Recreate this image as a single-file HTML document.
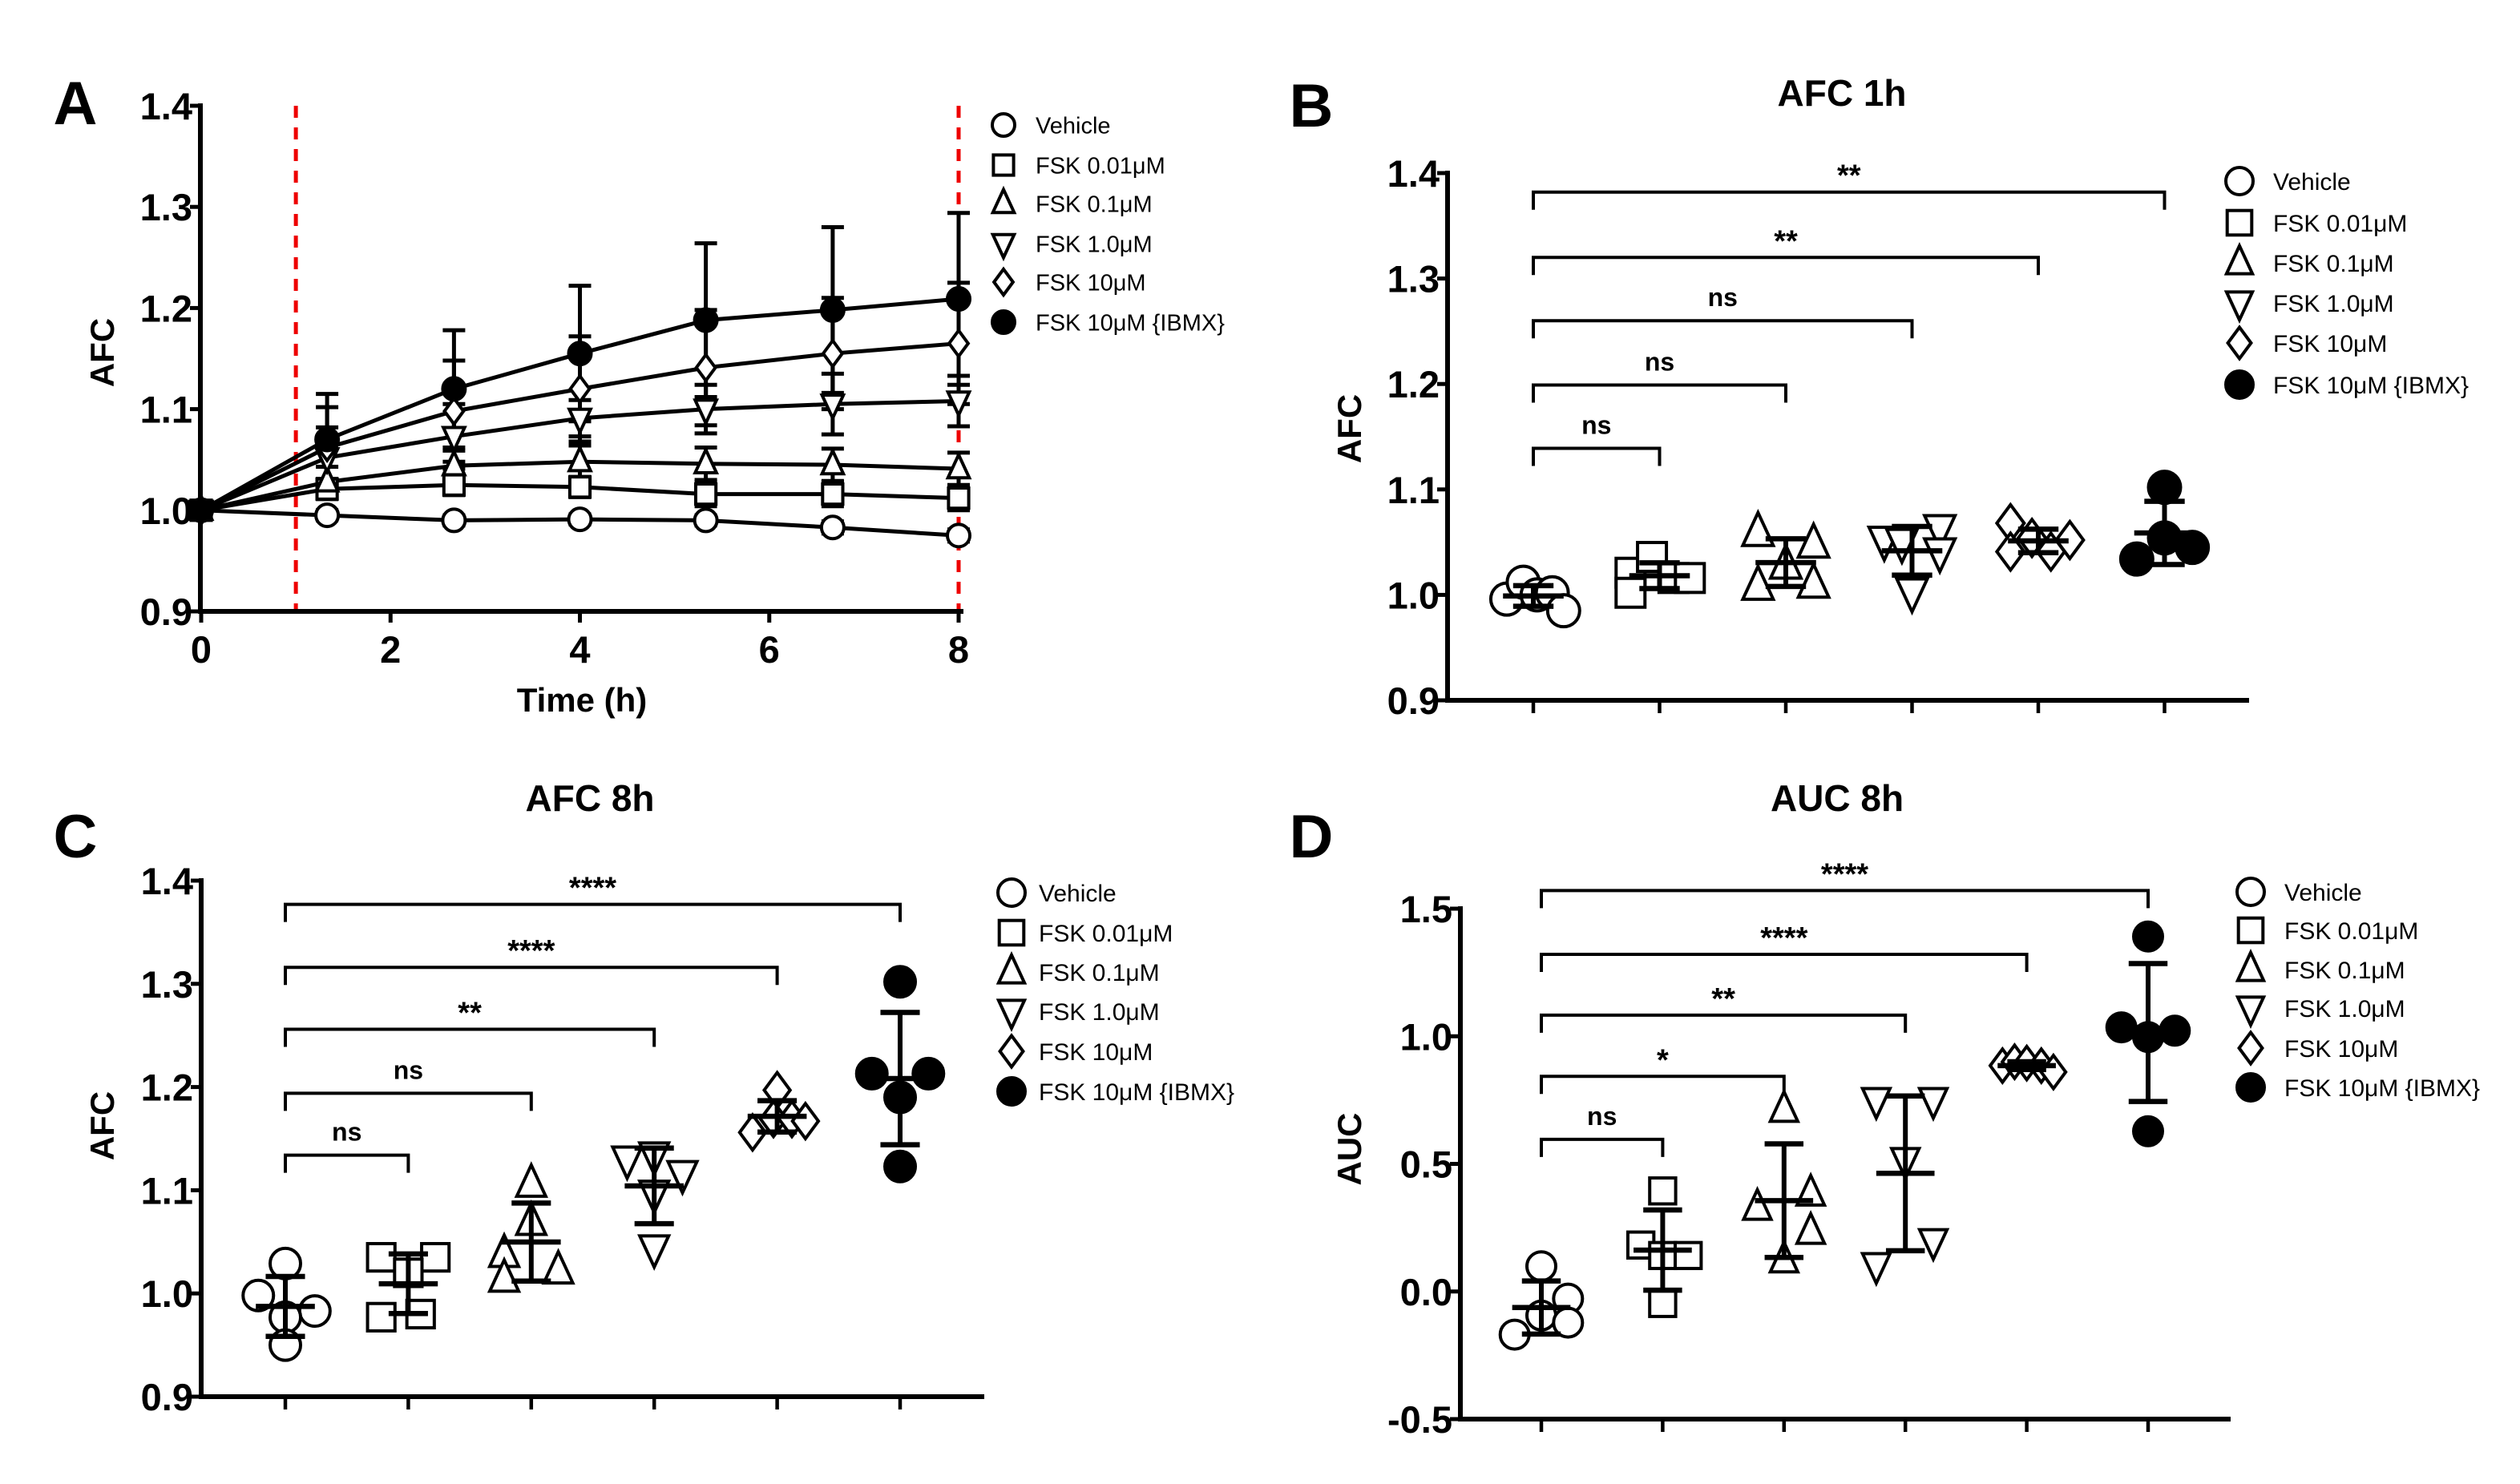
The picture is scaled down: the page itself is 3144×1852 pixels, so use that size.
<!DOCTYPE html>
<html><head><meta charset="utf-8"><style>
html,body{margin:0;padding:0;background:#fff;}
svg{display:block;font-family:"Liberation Sans",Arial,sans-serif;}
</style></head><body>
<svg id="fig" width="3144" height="1852" viewBox="0 0 3144 1852" xmlns="http://www.w3.org/2000/svg"></svg>
<script>
// ---------- Data ----------
const SERIES_NAMES = ["Vehicle","FSK 0.01μM","FSK 0.1μM","FSK 1.0μM","FSK 10μM","FSK 10μM {IBMX}"];
const SHAPES = ["circle","square","tri-up","tri-down","diamond","dot"];

// Panel A: time course
const A_times = [0, 1.33, 2.67, 4, 5.33, 6.67, 8];
const A_vehicle = [1.0, 0.995, 0.990, 0.991, 0.990, 0.983, 0.975];
const A_fsk001 = [1.0, 1.021, 1.025, 1.023, 1.016, 1.016, 1.012];
const A_fsk01 = [1.0, 1.028, 1.044, 1.048, 1.046, 1.045, 1.041];
const A_fsk1 = [1.0, 1.052, 1.073, 1.091, 1.100, 1.105, 1.108];
const A_fsk10 = [1.0, 1.062, 1.098, 1.120, 1.141, 1.155, 1.165];
const A_ibmx = [1.0, 1.070, 1.120, 1.155, 1.188, 1.198, 1.209];
const A_sd_vehicle = [0, 0.005, 0.005, 0.005, 0.005, 0.006, 0.006];
const A_sd_fsk001 = [0, 0.010, 0.010, 0.010, 0.012, 0.012, 0.012];
const A_sd_fsk01 = [0, 0.015, 0.015, 0.016, 0.016, 0.016, 0.016];
const A_sd_fsk1 = [0, 0.030, 0.032, 0.018, 0.024, 0.030, 0.025];
const A_sd_fsk10 = [0, 0.040, 0.050, 0.052, 0.057, 0.055, 0.060];
const A_sd_ibmx = [0, 0.045, 0.058, 0.067, 0.076, 0.082, 0.085];
const A_yticks = [0.9, 1.0, 1.1, 1.2, 1.3, 1.4];
const A_xticks = [0, 2, 4, 6, 8];
const A_dashes = [1, 8];

// Panel B: AFC 1h
const B_vehicle = [0.996, 1.012, 1.000, 1.002, 0.985];
const B_fsk001 = [1.021, 1.002, 1.036, 1.016, 1.016];
const B_fsk01 = [1.059, 1.008, 1.028, 1.048, 1.010];
const B_fsk1 = [1.052, 1.003, 1.063, 1.041, 1.050];
const B_fsk10 = [1.068, 1.041, 1.054, 1.041, 1.052];
const B_ibmx = [1.102, 1.054, 1.034, 1.045];
const B_yticks = [0.9, 1.0, 1.1, 1.2, 1.3, 1.4];
const B_brackets_to = [5, 4, 3, 2, 1];
const B_brackets_y = [1.382, 1.320, 1.260, 1.199, 1.139];
const B_brackets_label = ["**", "**", "ns", "ns", "ns"];

// Panel C: AFC 8h
const C_vehicle = [1.029, 0.998, 0.983, 0.977, 0.950];
const C_fsk001 = [1.035, 1.035, 1.020, 0.977, 0.980];
const C_fsk01 = [1.106, 1.069, 1.038, 1.014, 1.022];
const C_fsk1 = [1.130, 1.134, 1.116, 1.097, 1.044];
const C_fsk10 = [1.197, 1.156, 1.169, 1.169, 1.167];
const C_ibmx = [1.302, 1.213, 1.213, 1.190, 1.123];
const C_yticks = [0.9, 1.0, 1.1, 1.2, 1.3, 1.4];
const C_brackets_to = [5, 4, 3, 2, 1];
const C_brackets_y = [1.377, 1.316, 1.256, 1.194, 1.134];
const C_brackets_label = ["****", "****", "**", "ns", "ns"];

// Panel D: AUC 8h
const D_vehicle = [0.099, -0.028, -0.094, -0.122, -0.169];
const D_fsk001 = [0.394, 0.182, 0.141, 0.141, -0.047];
const D_fsk01 = [0.712, 0.328, 0.384, 0.234, 0.122];
const D_fsk1 = [0.750, 0.750, 0.515, 0.197, 0.103];
const D_fsk10 = [0.885, 0.900, 0.895, 0.885, 0.860];
const D_ibmx = [1.391, 1.035, 1.022, 0.997, 0.628];
const D_yticks = [-0.5, 0.0, 0.5, 1.0, 1.5];
const D_brackets_to = [5, 4, 3, 2, 1];
const D_brackets_y = [1.571, 1.321, 1.083, 0.843, 0.596];
const D_brackets_label = ["****", "****", "**", "*", "ns"];

// ---------- Layout (not data) ----------
const B_jit = [[-0.21,-0.08,0.03,0.15,0.24],[-0.23,-0.23,-0.06,0.11,0.24],[-0.22,-0.22,0.0,0.22,0.22],[-0.22,0.0,0.22,0.22,-0.08],[-0.22,-0.22,-0.05,0.1,0.25],[0.0,0.0,-0.22,0.22]];
const C_jit = [[0,-0.22,0.24,0,0],[-0.22,0.22,0.0,-0.22,0.1],[0,0,-0.22,-0.22,0.22],[-0.22,0,0.23,0,0],[0,-0.2,-0.03,0.12,0.23],[0,-0.23,0.23,0,0]];
const D_jit = [[0,0.22,0,0.22,-0.22],[0,-0.18,0,0.21,0],[0,-0.22,0.22,0.22,0],[-0.24,0.23,0,0.23,-0.24],[-0.2,-0.1,0.0,0.12,0.22],[0,-0.22,0.22,0,0]];

const NS = "http://www.w3.org/2000/svg";
const svg = document.getElementById("fig");
function mk(tag, attrs, parent) {
  const e = document.createElementNS(NS, tag);
  for (const k in attrs) e.setAttribute(k, attrs[k]);
  (parent || svg).appendChild(e);
  return e;
}
function txt(s, x, y, size, opts, parent) {
  const e = mk("text", {x: x, y: y, "font-size": size, "font-weight": (opts && opts.weight) || "bold", "text-anchor": (opts && opts.anchor) || "middle", fill: "#000"}, parent);
  if (opts && opts.transform) e.setAttribute("transform", opts.transform);
  e.textContent = s;
  return e;
}
function marker(shape, x, y, r, parent) {
  const sw = 4;
  let e;
  if (shape === "circle" || shape === "dot") {
    e = mk("circle", {cx: x, cy: y, r: r, fill: shape === "dot" ? "#000" : "#fff", stroke: "#000", "stroke-width": sw}, parent);
  } else if (shape === "square") {
    const s = r * 0.9;
    e = mk("rect", {x: x - s, y: y - s, width: 2 * s, height: 2 * s, fill: "#fff", stroke: "#000", "stroke-width": sw}, parent);
  } else if (shape === "tri-up") {
    e = mk("polygon", {points: `${x},${y - r * 1.25} ${x - r * 0.95},${y + r * 0.8} ${x + r * 0.95},${y + r * 0.8}`, fill: "#fff", stroke: "#000", "stroke-width": sw}, parent);
  } else if (shape === "tri-down") {
    e = mk("polygon", {points: `${x},${y + r * 1.25} ${x - r * 0.95},${y - r * 0.8} ${x + r * 0.95},${y - r * 0.8}`, fill: "#fff", stroke: "#000", "stroke-width": sw}, parent);
  } else {
    e = mk("polygon", {points: `${x},${y - r * 1.15} ${x + r * 0.85},${y} ${x},${y + r * 1.15} ${x - r * 0.85},${y}`, fill: "#fff", stroke: "#000", "stroke-width": sw}, parent);
  }
  
  
  return e;
}
function legend(x, x2, ys, r, size, name) {
  const g = mk("g", {});
  
  
  SERIES_NAMES.forEach((n, i) => {
    const row = mk("g", {}, g);
    
    
    marker(SHAPES[i], x, ys[i], r, row);
    txt(n, x2, ys[i] + size * 0.36, size, {weight: "normal", anchor: "start"}, row);
  });
}
function yAxis(p, ticks, name) {
  const g = mk("g", {});
  
  
  mk("line", {x1: p.ax, y1: p.yTop - 3, x2: p.ax, y2: p.yBot + 3, stroke: "#000", "stroke-width": 6}, g);
  ticks.forEach(v => {
    const y = p.ys(v);
    mk("line", {x1: p.ax - 13, y1: y, x2: p.ax, y2: y, stroke: "#000", "stroke-width": 5}, g);
    const t = txt(v.toFixed(1), p.ax - 10, y + 17, 47, {anchor: "end"}, g);
    
    
  });
}
function panelLetter(s, x, y) {
  const t = txt(s, x, y, 76, {});
  
  
}
function yTitle(s, x, y) {
  const t = txt(s, x, y, 42, {transform: `rotate(-90 ${x} ${y})`});
  
  
}
function mean(a) { return a.reduce((s, v) => s + v, 0) / a.length; }
function sd(a) { const m = mean(a); return Math.sqrt(a.reduce((s, v) => s + (v - m) * (v - m), 0) / (a.length - 1)); }

// ---------- Panel A ----------
(function () {
  const p = {ax: 250, yTop: 132, yBot: 763, vmin: 0.9, vmax: 1.4, x0: 251, x8: 1196};
  p.ys = v => p.yBot - (v - p.vmin) / (p.vmax - p.vmin) * (p.yBot - p.yTop);
  const xs = t => p.x0 + t / 8 * (p.x8 - p.x0);
  panelLetter("A", 94, 155);
  yTitle("AFC", 142, 440);
  A_dashes.forEach(t => {
    const l = mk("line", {x1: xs(t), y1: p.yTop, x2: xs(t), y2: p.yBot, stroke: "#e00", "stroke-width": 5, "stroke-dasharray": "15 12"});
    
    
  });
  yAxis(p, A_yticks, "y-axis-a");
  const gx = mk("g", {});
  
  
  mk("line", {x1: p.ax - 3, y1: p.yBot, x2: p.x8 + 6, y2: p.yBot, stroke: "#000", "stroke-width": 6}, gx);
  A_xticks.forEach(t => {
    mk("line", {x1: xs(t), y1: p.yBot, x2: xs(t), y2: p.yBot + 14, stroke: "#000", "stroke-width": 5}, gx);
    const tl = txt(String(t), xs(t), p.yBot + 64, 47, {}, gx);
    
    
  });
  const xt = txt("Time (h)", 726, 888, 42, {});
  
  
  const series = [A_vehicle, A_fsk001, A_fsk01, A_fsk1, A_fsk10, A_ibmx];
  const sds = [A_sd_vehicle, A_sd_fsk001, A_sd_fsk01, A_sd_fsk1, A_sd_fsk10, A_sd_ibmx];
  series.forEach((s, i) => {
    const g = mk("g", {});
    
    
    s.forEach((v, j) => {
      if (!sds[i][j]) return;
      const x = xs(A_times[j]);
      const hi = p.ys(v + sds[i][j]), lo = p.ys(v - sds[i][j]);
      mk("line", {x1: x, y1: hi, x2: x, y2: lo, stroke: "#000", "stroke-width": 5}, g);
      mk("line", {x1: x - 14, y1: hi, x2: x + 14, y2: hi, stroke: "#000", "stroke-width": 5}, g);
      mk("line", {x1: x - 14, y1: lo, x2: x + 14, y2: lo, stroke: "#000", "stroke-width": 5}, g);
    });
  });
  series.forEach((s, i) => {
    const pl = mk("polyline", {points: s.map((v, j) => xs(A_times[j]) + "," + p.ys(v)).join(" "), fill: "none", stroke: "#000", "stroke-width": 5});
    
    
  });
  series.forEach((s, i) => {
    s.forEach((v, j) => marker(SHAPES[i], xs(A_times[j]), p.ys(v), 14));
  });
  legend(1252, 1292, [156, 206, 254, 304, 352, 402], 14, 29, "legend-a");
})();

// ---------- Scatter panels ----------
function scatterPanel(cfg) {
  const p = cfg;
  p.ys = v => p.yBot - (v - p.vmin) / (p.vmax - p.vmin) * (p.yBot - p.yTop);
  const cx = i => p.cx0 + i * p.step;
  panelLetter(cfg.letter, cfg.lx, cfg.ly);
  const tt = txt(cfg.title, cfg.tx, cfg.ty, 46, {});
  
  
  yTitle(cfg.ytitle, cfg.ytx, cfg.yty);
  yAxis(p, cfg.yticks, "y-axis-" + cfg.letter.toLowerCase());
  const gx = mk("g", {});
  
  
  mk("line", {x1: p.ax - 3, y1: p.yBot, x2: p.xEnd, y2: p.yBot, stroke: "#000", "stroke-width": 6}, gx);
  for (let i = 0; i < 6; i++) mk("line", {x1: cx(i), y1: p.yBot, x2: cx(i), y2: p.yBot + 16, stroke: "#000", "stroke-width": 4.5}, gx);
  cfg.bto.forEach((to, k) => {
    const g = mk("g", {});
    
    
    const y = p.ys(cfg.by[k]);
    const x1 = cx(0), x2 = cx(to);
    mk("polyline", {points: `${x1},${y + 22} ${x1},${y} ${x2},${y} ${x2},${y + 22}`, fill: "none", stroke: "#000", "stroke-width": 4}, g);
    const lab = cfg.blab[k];
    const isNs = lab === "ns";
    txt(lab, (x1 + x2) / 2, isNs ? y - 18 : y - 8, isNs ? 32 : 38, {}, g);
  });
  cfg.groups.forEach((arr, i) => {
    const g = mk("g", {});
    
    
    arr.forEach((v, j) => marker(SHAPES[i], cx(i) + cfg.jit[i][j] * p.step, p.ys(v), cfg.r, g));
    const m = mean(arr), s = sd(arr), x = cx(i);
    mk("line", {x1: x, y1: p.ys(m + s), x2: x, y2: p.ys(m - s), stroke: "#000", "stroke-width": 6}, g);
    mk("line", {x1: x - p.step * 0.24, y1: p.ys(m), x2: x + p.step * 0.24, y2: p.ys(m), stroke: "#000", "stroke-width": 6.5}, g);
    mk("line", {x1: x - p.step * 0.16, y1: p.ys(m + s), x2: x + p.step * 0.16, y2: p.ys(m + s), stroke: "#000", "stroke-width": 6.5}, g);
    mk("line", {x1: x - p.step * 0.16, y1: p.ys(m - s), x2: x + p.step * 0.16, y2: p.ys(m - s), stroke: "#000", "stroke-width": 6.5}, g);
  });
  legend(cfg.legX, cfg.legTX, cfg.legY, 17, 30, "legend-" + cfg.letter.toLowerCase());
}

scatterPanel({letter: "B", lx: 1636, ly: 158, title: "AFC 1h", tx: 2298, ty: 132, ytitle: "AFC", ytx: 1698, yty: 535,
  ax: 1806, yTop: 216, yBot: 874, vmin: 0.9, vmax: 1.4, yticks: B_yticks, cx0: 1913, step: 157.5, xEnd: 2806,
  groups: [B_vehicle, B_fsk001, B_fsk01, B_fsk1, B_fsk10, B_ibmx], jit: B_jit, r: 20,
  bto: B_brackets_to, by: B_brackets_y, blab: B_brackets_label,
  legX: 2794, legTX: 2836, legY: [226, 278, 328, 378, 428, 480]});

scatterPanel({letter: "C", lx: 94, ly: 1070, title: "AFC 8h", tx: 736, ty: 1012, ytitle: "AFC", ytx: 142, yty: 1405,
  ax: 251, yTop: 1099, yBot: 1743, vmin: 0.9, vmax: 1.4, yticks: C_yticks, cx0: 356, step: 153.4, xEnd: 1228,
  groups: [C_vehicle, C_fsk001, C_fsk01, C_fsk1, C_fsk10, C_ibmx], jit: C_jit, r: 19,
  bto: C_brackets_to, by: C_brackets_y, blab: C_brackets_label,
  legX: 1262, legTX: 1296, legY: [1114, 1164, 1213, 1262, 1312, 1362]});

scatterPanel({letter: "D", lx: 1636, ly: 1070, title: "AUC 8h", tx: 2292, ty: 1012, ytitle: "AUC", ytx: 1698, yty: 1434,
  ax: 1822, yTop: 1134, yBot: 1771, vmin: -0.5, vmax: 1.5, yticks: D_yticks, cx0: 1923, step: 151.4, xEnd: 2783,
  groups: [D_vehicle, D_fsk001, D_fsk01, D_fsk1, D_fsk10, D_ibmx], jit: D_jit, r: 18,
  bto: D_brackets_to, by: D_brackets_y, blab: D_brackets_label,
  legX: 2808, legTX: 2850, legY: [1113, 1161, 1210, 1258, 1308, 1357]});
</script>
</body></html>
